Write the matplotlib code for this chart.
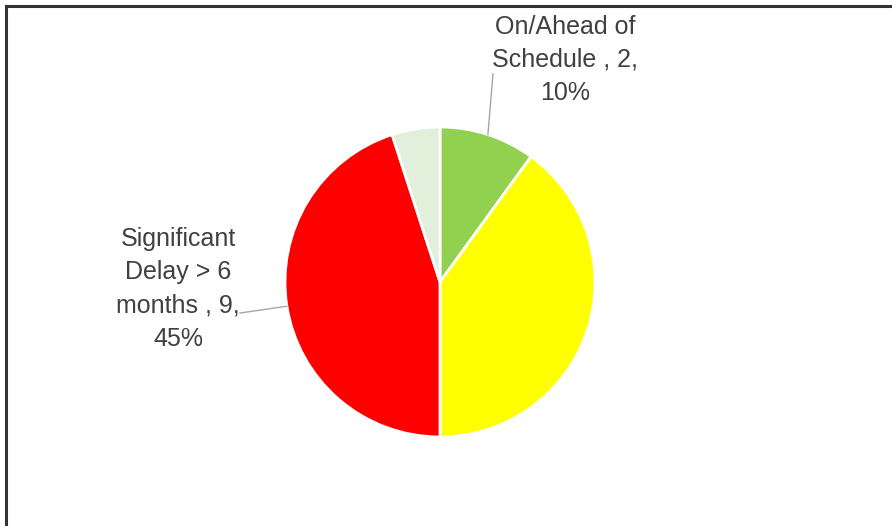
import numpy as np
import matplotlib.pyplot as plt
from matplotlib.lines import Line2D

names = ['On/Ahead of\nSchedule', 'Minor Delay', 'Significant\nDelay > 6\nmonths', 'Other']
values = [2, 8, 9, 1]
colors = ['#92D050', '#FFFF00', '#FF0000', '#E2EFDA']
show_label = [True, False, True, False]

W, H = 892, 526
fig = plt.figure(figsize=(W / 100, H / 100), dpi=100)
ax = fig.add_axes([0, 0, 1, 1])

cx, cy, r = 440, H - 282, 155
wedges, _ = ax.pie(values, colors=colors, startangle=90, counterclock=False,
                   center=(cx, cy), radius=r, frame=True,
                   wedgeprops=dict(edgecolor='white', linewidth=2))
ax.set_xlim(0, W)
ax.set_ylim(0, H)
ax.set_aspect('equal')
ax.axis('off')

# etiquetas com linha de chamada
total = sum(values)
text_pos = {0: (565, H - 60), 2: (178, H - 289)}
line_end = {0: (493, H - 74), 2: (240, H - 313)}
for i, w in enumerate(wedges):
    if not show_label[i]:
        continue
    ang = np.deg2rad((w.theta1 + w.theta2) / 2)
    x0, y0 = cx + r * np.cos(ang), cy + r * np.sin(ang)
    x1, y1 = line_end[i]
    ax.plot([x0, x1], [y0, y1], color='#A6A6A6', lw=1)
    pct = 100 * values[i] / total
    lbl = names[i] + f' , {values[i]},\n{pct:.0f}%'
    tx, ty = text_pos[i]
    ax.text(tx, ty, lbl, ha='center', va='center', fontsize=18, color='#404040',
            family=['Liberation Sans Narrow', 'Liberation Sans', 'DejaVu Sans'],
            linespacing=1.48)

# borda do gráfico (topo e esquerda)
fig.add_artist(Line2D([5.5 / W, 1], [1 - 5.5 / H, 1 - 5.5 / H], color='#333333', lw=2.2))
fig.add_artist(Line2D([5.5 / W, 5.5 / W], [0, 1 - 5.5 / H], color='#333333', lw=2.2))

fig.savefig('out.png', dpi=100)
